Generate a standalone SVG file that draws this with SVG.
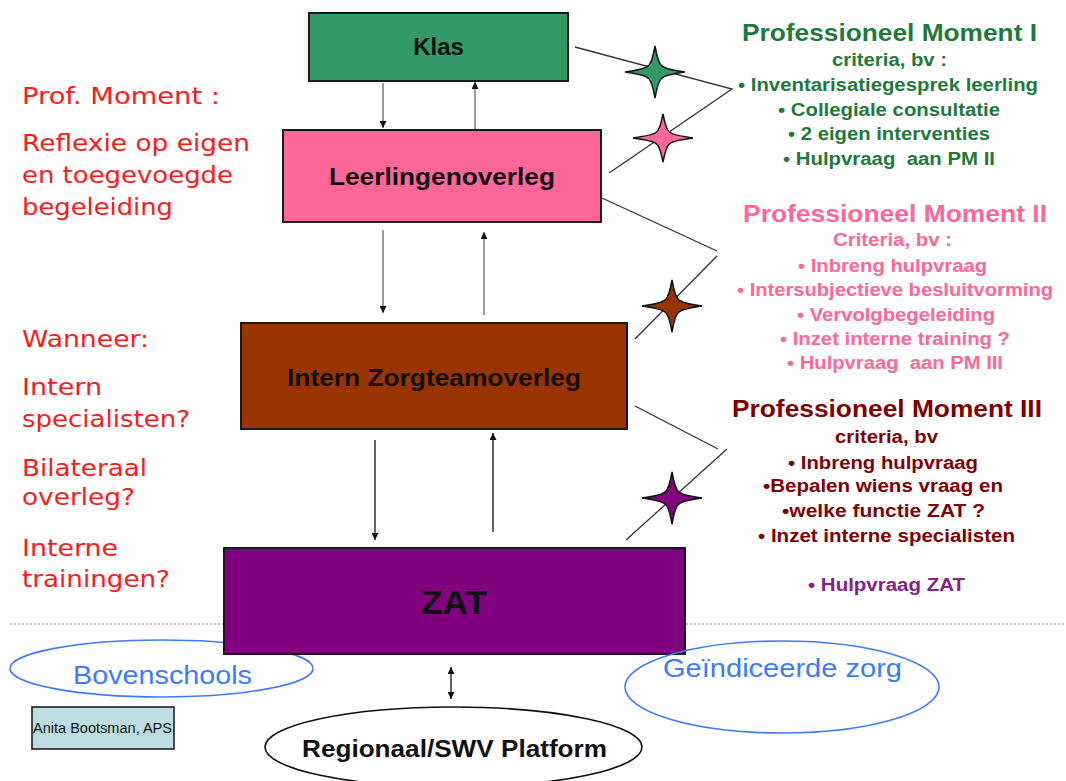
<svg xmlns="http://www.w3.org/2000/svg" width="1066" height="781" viewBox="0 0 1066 781">
<defs>
<style>
.box{stroke:#1a1a1a;stroke-width:2}
.nl{font-family:"Liberation Sans",Arial,sans-serif;font-weight:bold;fill:#111}
.pm{font-family:"Liberation Sans",Arial,sans-serif;font-weight:bold}
.t{font-size:23px}
.b{font-size:18px}
.g{fill:#1f7a3a}
.p{fill:#ff6699}
.m{fill:#800000}
.v{fill:#882288}
.pre{white-space:pre}
.lt{font-family:"DejaVu Sans",Verdana,sans-serif;font-size:23px;fill:#ff1a1a}
.conn{stroke:#333;stroke-width:1.3;fill:none}
.arr{stroke:#666;stroke-width:1.3;fill:none}
.arr2{stroke:#111;stroke-width:1.3;fill:none}
.star{stroke:#111;stroke-width:1.5;stroke-linejoin:miter}
.oval{fill:none;stroke:#3b7cff;stroke-width:1.6}
.blue{font-family:"Liberation Sans",Arial,sans-serif;font-size:25px;fill:#3b7cff}
</style>
<marker id="ah" viewBox="0 0 10 10" refX="10" refY="5" markerWidth="7" markerHeight="7" markerUnits="userSpaceOnUse" orient="auto-start-reverse">
<path d="M0,0 L10,5 L0,10 Z" fill="#111"/>
</marker>
<path id="starShape" d="M0,-26 Q3,-9 6.5,-6.5 Q9,-3 30,0 Q9,3 6.5,6.5 Q3,9 0,26 Q-3,9 -6.5,6.5 Q-9,3 -30,0 Q-9,-3 -6.5,-6.5 Q-3,-9 0,-26 Z"/>
</defs>
<rect width="1066" height="781" fill="#fff"/>

<line x1="10" y1="624" x2="1066" y2="624" stroke="#c9a6c9" stroke-width="1.5" stroke-dasharray="2,2"/>

<g id="bovenschools">
<ellipse class="oval" cx="161.5" cy="668.5" rx="151.5" ry="28.5"/>
<text class="blue" x="73" y="684" textLength="179" lengthAdjust="spacingAndGlyphs">Bovenschools</text>
</g>

<g id="connectors">
<line class="arr" x1="383" y1="83" x2="383" y2="128" marker-end="url(#ah)"/>
<line class="arr" x1="475" y1="129" x2="475" y2="82" marker-end="url(#ah)"/>
<line class="arr" x1="383" y1="230" x2="383" y2="313" marker-end="url(#ah)"/>
<line class="arr" x1="484" y1="315" x2="484" y2="232" marker-end="url(#ah)"/>
<line class="arr2" x1="375" y1="440" x2="375" y2="540" marker-end="url(#ah)"/>
<line class="arr2" x1="493" y1="532" x2="493" y2="433" marker-end="url(#ah)"/>
<line class="arr2" x1="451" y1="667" x2="451" y2="699" marker-start="url(#ah)" marker-end="url(#ah)"/>
<polyline class="conn" points="575,47 732,89 609,173"/>
<polyline class="conn" points="602,198 717,251"/>
<line class="conn" x1="717" y1="256" x2="635" y2="339"/>
<polyline class="conn" points="635,406 718,449"/>
<line class="conn" x1="727" y1="449" x2="626" y2="540"/>
</g>

<g id="stars">
<use href="#starShape" class="star" fill="#339966" transform="translate(655,72)"/>
<use href="#starShape" class="star" fill="#ff6699" transform="translate(663,138) scale(1,0.93)"/>
<use href="#starShape" class="star" fill="#993300" transform="translate(672,306)"/>
<use href="#starShape" class="star" fill="#800080" transform="translate(672,498)"/>
</g>

<g id="klas">
<rect class="box" x="309" y="13" width="259" height="68" fill="#339966"/>
<text class="nl" x="438.5" y="55" font-size="24" text-anchor="middle">Klas</text>
</g>
<g id="leerlingenoverleg">
<rect class="box" x="283" y="130" width="318" height="92" fill="#ff6699"/>
<text class="nl" x="329" y="185" font-size="23" textLength="226" lengthAdjust="spacingAndGlyphs">Leerlingenoverleg</text>
</g>
<g id="intern-zorgteamoverleg">
<rect class="box" x="241" y="323" width="386" height="106" fill="#993300"/>
<text class="nl" x="287" y="386" font-size="23" textLength="294" lengthAdjust="spacingAndGlyphs">Intern Zorgteamoverleg</text>
</g>
<g id="zat">
<rect class="box" x="224" y="548" width="461" height="106" fill="#800080"/>
<text class="nl" x="421" y="614" font-size="33" textLength="66" lengthAdjust="spacingAndGlyphs">ZAT</text>
</g>

<g id="left-text" class="lt">
<text x="22" y="104" textLength="198" lengthAdjust="spacingAndGlyphs">Prof. Moment :</text>
<text x="22" y="151" textLength="228" lengthAdjust="spacingAndGlyphs">Reflexie op eigen</text>
<text x="22" y="183" textLength="211" lengthAdjust="spacingAndGlyphs">en toegevoegde</text>
<text x="22" y="215" textLength="151" lengthAdjust="spacingAndGlyphs">begeleiding</text>
<text x="22" y="347" textLength="127" lengthAdjust="spacingAndGlyphs">Wanneer:</text>
<text x="22" y="395" textLength="80" lengthAdjust="spacingAndGlyphs">Intern</text>
<text x="22" y="427" textLength="168" lengthAdjust="spacingAndGlyphs">specialisten?</text>
<text x="22" y="476" textLength="125" lengthAdjust="spacingAndGlyphs">Bilateraal</text>
<text x="22" y="505" textLength="113" lengthAdjust="spacingAndGlyphs">overleg?</text>
<text x="22" y="556" textLength="96" lengthAdjust="spacingAndGlyphs">Interne</text>
<text x="22" y="587" textLength="148" lengthAdjust="spacingAndGlyphs">trainingen?</text>
</g>

<g id="pm1" class="pm g">
<text class="t" x="742" y="41" textLength="295" lengthAdjust="spacingAndGlyphs">Professioneel Moment I</text>
<text class="b" x="832" y="66" textLength="115" lengthAdjust="spacingAndGlyphs">criteria, bv :</text>
<text class="b" x="738" y="91" textLength="300" lengthAdjust="spacingAndGlyphs">• Inventarisatiegesprek leerling</text>
<text class="b" x="778" y="116" textLength="222" lengthAdjust="spacingAndGlyphs">• Collegiale consultatie</text>
<text class="b" x="788" y="140" textLength="202" lengthAdjust="spacingAndGlyphs">• 2 eigen interventies</text>
<text class="b pre" x="783" y="165" textLength="212" lengthAdjust="spacingAndGlyphs">• Hulpvraag  aan PM II</text>
</g>

<g id="pm2" class="pm p">
<text class="t" x="743" y="222" textLength="304" lengthAdjust="spacingAndGlyphs">Professioneel Moment II</text>
<text class="b" x="833" y="246" textLength="119" lengthAdjust="spacingAndGlyphs">Criteria, bv :</text>
<text class="b" x="798" y="272" textLength="189" lengthAdjust="spacingAndGlyphs">• Inbreng hulpvraag</text>
<text class="b" x="737" y="296" textLength="316" lengthAdjust="spacingAndGlyphs">• Intersubjectieve besluitvorming</text>
<text class="b" x="797" y="321" textLength="198" lengthAdjust="spacingAndGlyphs">• Vervolgbegeleiding</text>
<text class="b" x="780" y="345" textLength="230" lengthAdjust="spacingAndGlyphs">• Inzet interne training ?</text>
<text class="b pre" x="787" y="369" textLength="216" lengthAdjust="spacingAndGlyphs">• Hulpvraag  aan PM III</text>
</g>

<g id="pm3" class="pm m">
<text class="t" x="732" y="417" textLength="310" lengthAdjust="spacingAndGlyphs">Professioneel Moment III</text>
<text class="b" x="835" y="443" textLength="103" lengthAdjust="spacingAndGlyphs">criteria, bv</text>
<text class="b" x="788" y="469" textLength="190" lengthAdjust="spacingAndGlyphs">• Inbreng hulpvraag</text>
<text class="b" x="763" y="492" textLength="240" lengthAdjust="spacingAndGlyphs">•Bepalen wiens vraag en</text>
<text class="b" x="782" y="517" textLength="203" lengthAdjust="spacingAndGlyphs">•welke functie ZAT ?</text>
<text class="b" x="758" y="542" textLength="257" lengthAdjust="spacingAndGlyphs">• Inzet interne specialisten</text>
<text class="b v" x="808" y="591" textLength="157" lengthAdjust="spacingAndGlyphs">• Hulpvraag ZAT</text>
</g>

<g id="geindiceerde-zorg">
<ellipse class="oval" cx="782" cy="687" rx="157" ry="46"/>
<text class="blue" x="663" y="677" textLength="239" lengthAdjust="spacingAndGlyphs">Geïndiceerde zorg</text>
</g>
<g id="regionaal">
<ellipse cx="453.5" cy="747" rx="188.5" ry="40" fill="#fff" stroke="#111" stroke-width="1.6"/>
<text class="nl" x="302" y="757" font-size="23" textLength="305" lengthAdjust="spacingAndGlyphs">Regionaal/SWV Platform</text>
</g>
<g id="credit">
<rect x="32" y="707" width="142" height="42" fill="#bedde3" stroke="#111" stroke-width="1.5"/>
<text x="33" y="733" font-family="Liberation Sans, Arial, sans-serif" font-size="14" fill="#111" textLength="139" lengthAdjust="spacingAndGlyphs">Anita Bootsman, APS</text>
</g>
</svg>
